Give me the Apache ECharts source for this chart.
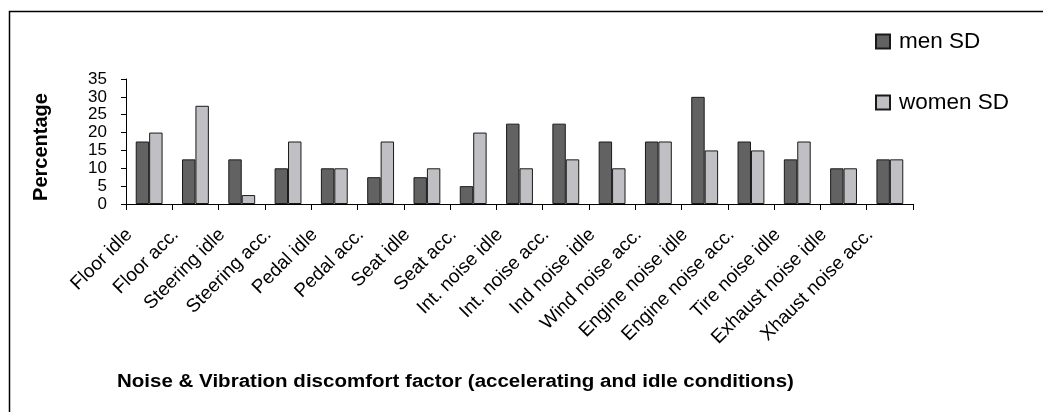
<!DOCTYPE html>
<html>
<head>
<meta charset="utf-8">
<script src="https://cdn.jsdelivr.net/npm/echarts@6/dist/echarts.min.js"></script>
<style>html,body{margin:0;padding:0;background:#fff}#c{width:1043px;height:412px}</style>
</head>
<body>
<div id="c"></div>
<script>
var categories = ["Floor idle","Floor acc.","Steering idle","Steering acc.","Pedal idle","Pedal acc.","Seat idle","Seat acc.","Int. noise idle","Int. noise acc.","Ind noise idle","Wind noise acc.","Engine noise idle","Engine noise acc.","Tire noise idle","Exhaust noise idle","Xhaust noise acc."];
var menSD   = [17.5,12.5,12.5,10,10,7.5,7.5,5,22.5,22.5,17.5,17.5,30,17.5,12.5,10,12.5];
var womenSD = [20,27.5,2.5,17.5,10,17.5,10,20,10,12.5,10,17.5,15,15,17.5,10,12.5];
var yTicks = {min:0, max:35, interval:5};
var seriesNames = ["men SD","women SD"];
var xTitle = "Noise & Vibration discomfort factor (accelerating and idle conditions)";
var yTitle = "Percentage";

var FONT = "'Liberation Sans', Arial, Helvetica, sans-serif";
var chart = echarts.init(document.getElementById('c'), null, {renderer:'canvas'});
chart.setOption({
  animation:false,
  backgroundColor:'#fff',
  grid:{left:126, right:130, top:79, bottom:208, containLabel:false},
  legend:{
    orient:'vertical', left:875, top:30, padding:0, itemWidth:14, itemHeight:14, itemGap:38,
    icon:'rect',
    textStyle:{fontFamily:FONT, fontSize:22.5, color:'#000', lineHeight:21, padding:[0,0,0,4]},
    data:seriesNames
  },
  xAxis:{
    type:'category', data:categories,
    axisLine:{lineStyle:{color:'#000', width:1}},
    axisTick:{show:true, alignWithLabel:false, length:6, lineStyle:{color:'#000'}},
    axisLabel:{interval:0, rotate:45, margin:8, padding:[0,28,0,0], fontFamily:FONT, fontSize:19, color:'#000'}
  },
  yAxis:{
    type:'value', min:yTicks.min, max:yTicks.max, interval:yTicks.interval,
    splitLine:{show:false},
    axisLine:{show:true, lineStyle:{color:'#000', width:1}},
    axisTick:{show:true, length:5, lineStyle:{color:'#000'}},
    axisLabel:{margin:19, fontFamily:FONT, fontSize:17, color:'#000'}
  },
  series:[
    {name:seriesNames[0], type:'bar', data:menSD, barGap:'0%', barCategoryGap:'42%',
     itemStyle:{color:'#626262', borderColor:'#1a1a1a', borderWidth:1}},
    {name:seriesNames[1], type:'bar', data:womenSD,
     itemStyle:{color:'#c0c0c4', borderColor:'#1a1a1a', borderWidth:1}}
  ],
  graphic:[
    {type:'rect', left:7, top:9, shape:{width:1100, height:500}, style:{fill:'none', stroke:'#000', lineWidth:1.5}, silent:true},
    {type:'text', x:41.5, y:147, rotation:Math.PI/2, style:{text:yTitle, font:'bold 20px '+FONT, fill:'#000', textAlign:'center', textVerticalAlign:'middle'}},
    {type:'text', x:117, y:382, scaleX:1.14, style:{text:xTitle, font:'bold 18px '+FONT, fill:'#000', textAlign:'left', textVerticalAlign:'middle'}}
  ]
});
</script>
</body>
</html>
